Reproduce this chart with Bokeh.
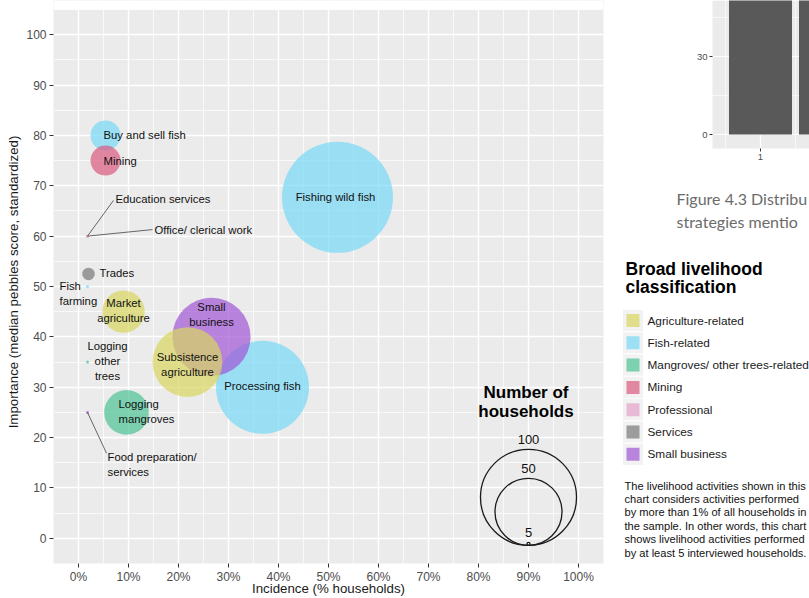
import math
from bokeh.plotting import figure
from bokeh.layouts import row
from bokeh.models import FixedTicker, Range1d, ColumnDataSource
from bokeh.core.properties import value
from bokeh.embed import file_html
from bokeh.resources import INLINE

# ---------------- data ----------------
activities = ["Buy and sell fish", "Education services", "Fish farming", "Fishing wild fish",
              "Food preparation/ services", "Logging mangroves", "Logging other trees",
              "Market agriculture", "Mining", "Office/ clerical work", "Processing fish",
              "Small business", "Subsistence agriculture", "Trades"]
category = ["Fish-related", "Professional", "Fish-related", "Fish-related", "Small business",
            "Mangroves/ other trees-related", "Mangroves/ other trees-related",
            "Agriculture-related", "Mining", "Professional", "Fish-related", "Small business",
            "Agriculture-related", "Services"]
incidence = [5.4, 1.8, 1.8, 51.8, 1.8, 9.6, 1.8, 9.0, 5.4, 1.8, 36.8, 26.6, 21.8, 2.0]
importance = [80, 60, 50, 67.7, 25, 25, 35, 45, 75, 60, 30, 40, 35, 52.5]
households = [13, 5, 5, 133, 5, 24, 5, 22, 13, 5, 94, 67, 54, 6]

legend_categories = ["Agriculture-related", "Fish-related", "Mangroves/ other trees-related",
                     "Mining", "Professional", "Services", "Small business"]
legend_colors = ["#d8d560", "#78d8f6", "#4cc396", "#dc5a7f", "#e6a3c9", "#787878", "#a056d6"]

size_breaks = [100, 50, 5]
x_ticks = [0, 10, 20, 30, 40, 50, 60, 70, 80, 90, 100]
x_tick_labels = ["0%", "10%", "20%", "30%", "40%", "50%", "60%", "70%", "80%", "90%", "100%"]
y_ticks = [0, 10, 20, 30, 40, 50, 60, 70, 80, 90, 100]

# text labels (text, x, y) grouped by alignment
labels_left = [("Buy and sell fish", 5.0, 80.0), ("Mining", 5.0, 75.0),
               ("Education services", 7.4, 67.3), ("Office/ clerical work", 15.2, 61.3),
               ("Trades", 4.2, 52.6), ("Fish\nfarming", -3.8, 48.7),
               ("Logging\nmangroves", 8.0, 25.2), ("Food preparation/\nservices", 5.8, 14.7)]
labels_center = [("Market\nagriculture", 9.0, 45.2), ("Small\nbusiness", 26.6, 44.4),
                 ("Subsistence\nagriculture", 21.8, 34.5), ("Processing fish", 36.8, 30.2),
                 ("Logging\nother\ntrees", 5.8, 35.3), ("Fishing wild fish", 51.4, 67.7)]
leaders = [(1.8, 60.0, 7.0, 67.1), (1.8, 60.0, 14.8, 61.3), (1.8, 25.0, 5.6, 16.9)]

# partial neighbouring figure (bar chart fragment, cut by the page edge)
bar_x = [1, 2]
bar_top = [62, 58]
bar_y_ticks = [0, 30]
bar_y_minor = [15, 45]
bar_x_ticks = [1]
bar_x_minor = [0.5, 1.5]

note_lines = ["The livelihood activities shown in this",
              "chart considers activities performed",
              "by more than 1% of all households in",
              "the sample. In other words, this chart",
              "shows livelihood activities performed",
              "by at least 5 interviewed households."]
caption_lines = ["Figure 4.3 Distribu", "strategies mentio"]

FONT_NAME = "Liberation Sans"
FONT = value(FONT_NAME)
color_of = dict(zip(legend_categories, legend_colors))

# size scale (area-style, like ggplot scale_size)
N_MIN, N_MAX = 5, 133
R_MIN, R_MAX = 1.5, 55.5


def radius_px(n):
    return R_MIN + (R_MAX - R_MIN) * math.sqrt(max(n - N_MIN, 0) / (N_MAX - N_MIN))


# ---------------- layout constants ----------------
W1, H = 606, 598
FRAME_BOTTOM = 563          # page y of the panel bottom
PANEL_TOP = 9               # page y of the panel top
PY = FRAME_BOTTOM / 111.787  # px per y unit; frame spans page y 0..563
Y_TOP = 105 + PANEL_TOP / PY

# ---------------- main plot ----------------
p1 = figure(width=W1, height=H, x_range=Range1d(-5, 105), y_range=Range1d(-5, Y_TOP),
            output_backend="svg", toolbar_location=None,
            min_border_left=53, min_border_right=3, min_border_top=0,
            min_border_bottom=H - FRAME_BOTTOM)
p1.background_fill_color = "#ebebeb"
p1.border_fill_color = "white"
p1.outline_line_color = None

p1.xaxis.ticker = FixedTicker(ticks=x_ticks, minor_ticks=[t + 5 for t in [-10] + x_ticks])
p1.yaxis.ticker = FixedTicker(ticks=y_ticks, minor_ticks=[t + 5 for t in [-10] + y_ticks])
p1.xaxis.major_label_overrides = {t: l for t, l in zip(x_ticks, x_tick_labels)}
for ax in (p1.xaxis[0], p1.yaxis[0]):
    ax.axis_line_color = None
    ax.major_tick_line_color = "#333333"
    ax.major_tick_out = 4
    ax.major_tick_in = 0
    ax.minor_tick_line_color = None
    ax.major_label_text_color = "#4d4d4d"
    ax.major_label_text_font = FONT_NAME
    ax.major_label_text_font_size = "12px"
    ax.major_label_standoff = 3
    ax.axis_label_text_font = FONT_NAME
    ax.axis_label_text_font_size = "13.3px"
    ax.axis_label_text_font_style = "normal"
    ax.axis_label_text_color = "#1a1a1a"
    ax.axis_label_standoff = 2
p1.xaxis.major_label_standoff = 2
p1.xaxis.axis_label_standoff = -6
p1.xaxis.axis_label = "Incidence (% households)"
p1.yaxis.axis_label = "Importance (median pebbles score, standardized)"

for g in (p1.xgrid[0], p1.ygrid[0]):
    g.grid_line_color = "white"
    g.grid_line_width = 1.4
    g.minor_grid_line_color = "white"
    g.minor_grid_line_width = 0.7

# white page strip above the ggplot panel
p1.quad(left=[-5], right=[105], bottom=[105], top=[Y_TOP], fill_color="white",
        line_color=None)

src = ColumnDataSource(dict(
    x=incidence, y=importance,
    size=[2 * radius_px(n) for n in households],
    color=[color_of[c] for c in category]))
p1.scatter(x="x", y="y", size="size", fill_color="color", fill_alpha=0.7,
           line_color=None, source=src)

p1.segment(x0=[l[0] for l in leaders], y0=[l[1] for l in leaders],
           x1=[l[2] for l in leaders], y1=[l[3] for l in leaders],
           line_color="#444444", line_width=0.8)

p1.text(x=[l[1] for l in labels_left], y=[l[2] for l in labels_left],
        text=[l[0] for l in labels_left], text_align="left", text_baseline="middle",
        text_font=FONT, text_font_size="11.3px", text_color="#111111",
        text_line_height=1.25)
p1.text(x=[l[1] for l in labels_center], y=[l[2] for l in labels_center],
        text=[l[0] for l in labels_center], text_align="center", text_baseline="middle",
        text_font=FONT, text_font_size="11.3px", text_color="#111111",
        text_line_height=1.25)

# size legend inside the panel
LEG_X = 90
LEG_BOTTOM = -1.4
leg_r = [radius_px(n) for n in size_breaks]
p1.scatter(x=[LEG_X] * len(size_breaks), y=[LEG_BOTTOM + r / PY for r in leg_r],
           size=[2 * r for r in leg_r], fill_color=None, line_color="#1a1a1a", line_width=1.3)
p1.text(x=[LEG_X] * len(size_breaks), y=[LEG_BOTTOM + 2 * r / PY for r in leg_r],
        text=[str(n) for n in size_breaks], text_align="center", text_baseline="bottom",
        y_offset=-5, text_font=FONT, text_font_size="13px", text_color="#111111")
p1.text(x=[LEG_X - 0.5], y=[27.1], text=["Number of\nhouseholds"], text_align="center",
        text_baseline="middle", text_font=FONT, text_font_size="17px",
        text_font_style="bold", text_color="#000000", text_line_height=1.0)

# ---------------- right-hand side: bar fragment, caption, legend, note ----------------
W2 = 809 - W1
pr = figure(width=W2, height=H, x_range=Range1d(W1, 809), y_range=Range1d(FRAME_BOTTOM, 0),
            output_backend="svg", toolbar_location=None, x_axis_type=None, y_axis_type=None,
            min_border_left=0, min_border_right=0, min_border_top=0,
            min_border_bottom=H - FRAME_BOTTOM)
pr.outline_line_color = None
pr.xgrid.visible = False
pr.ygrid.visible = False
pr.background_fill_color = "white"
pr.border_fill_color = "white"

# scales for the neighbouring bar chart: 70 px per category, 2.6 px per count,
# category 1 at x=760 and count 0 at y=134 of this page region
BX_PX, BY_PX, BX0, BY0 = 70.0, 2.6, 760.0, 134.0
pr.extra_x_ranges = {"bar": Range1d(1 - (BX0 - W1) / BX_PX, 1 + (809 - BX0) / BX_PX)}
pr.extra_y_ranges = {"bar": Range1d(-(FRAME_BOTTOM - BY0) / BY_PX, BY0 / BY_PX)}
b_left = 1 - (BX0 - 712) / BX_PX
b_bottom = -(148 - BY0) / BY_PX
b_right = 1 + (809 - BX0) / BX_PX
b_top = BY0 / BY_PX
kw = dict(x_range_name="bar", y_range_name="bar")
pr.quad(left=[b_left], right=[b_right], bottom=[b_bottom], top=[b_top],
        fill_color="#ebebeb", line_color=None, **kw)
pr.segment(x0=[b_left] * 2, x1=[b_right] * 2, y0=bar_y_minor, y1=bar_y_minor,
           line_color="white", line_width=0.6, **kw)
pr.segment(x0=bar_x_minor, x1=bar_x_minor, y0=[b_bottom] * 2, y1=[b_top] * 2,
           line_color="white", line_width=0.6, **kw)
pr.segment(x0=[b_left] * 2, x1=[b_right] * 2, y0=bar_y_ticks, y1=bar_y_ticks,
           line_color="white", line_width=1.2, **kw)
pr.segment(x0=bar_x_ticks, x1=bar_x_ticks, y0=[b_bottom], y1=[b_top],
           line_color="white", line_width=1.2, **kw)
pr.quad(left=[x - 0.45 for x in bar_x], right=[x + 0.45 for x in bar_x],
        bottom=[0] * len(bar_x), top=bar_top, fill_color="#595959", line_color=None, **kw)
pr.segment(x0=[b_left - 3 / BX_PX] * 2, x1=[b_left] * 2, y0=bar_y_ticks, y1=bar_y_ticks,
           line_color="#333333", line_width=1, **kw)
pr.text(x=[b_left - 5 / BX_PX] * 2, y=bar_y_ticks, text=[str(t) for t in bar_y_ticks],
        text_align="right", text_baseline="middle", text_font=FONT,
        text_font_size="9.5px", text_color="#4d4d4d", **kw)
pr.segment(x0=bar_x_ticks, x1=bar_x_ticks, y0=[b_bottom], y1=[b_bottom - 3 / BY_PX],
           line_color="#333333", line_width=1, **kw)
pr.text(x=bar_x_ticks, y=[b_bottom - 5 / BY_PX], text=[str(t) for t in bar_x_ticks],
        text_align="center", text_baseline="top", text_font=FONT,
        text_font_size="9.5px", text_color="#4d4d4d", **kw)

pr.text(x=[676, 676], y=[198, 221], text=caption_lines, text_baseline="middle",
        text_font=value("Lato"), text_font_size="16px", text_color="#6b6b6b")

pr.text(x=[625, 625], y=[268, 286], text=["Broad livelihood", "classification"],
        text_baseline="middle", text_font=FONT, text_font_size="17.5px",
        text_font_style="bold", text_color="#000000")

key_y = [320 + 22.3 * i for i in range(len(legend_categories))]
pr.rect(x=[632.5] * len(key_y), y=key_y, width=21, height=22.3, fill_color="#f2f2f2",
        line_color="white", line_width=1)
pr.rect(x=[632.5] * len(key_y), y=key_y, width=13, height=13, fill_color=legend_colors,
        fill_alpha=0.7, line_color=None)
pr.text(x=[647] * len(key_y), y=key_y, text=legend_categories, text_baseline="middle",
        text_font=FONT, text_font_size="11.8px", text_color="#1a1a1a")

note_y = [485 + 13.4 * i for i in range(len(note_lines))]
pr.text(x=[624] * len(note_y), y=note_y, text=note_lines, text_baseline="middle",
        text_font=FONT, text_font_size="11.1px", text_color="#111111")

layout = row(p1, pr)
open("out.html", "w").write(file_html(layout, INLINE))
